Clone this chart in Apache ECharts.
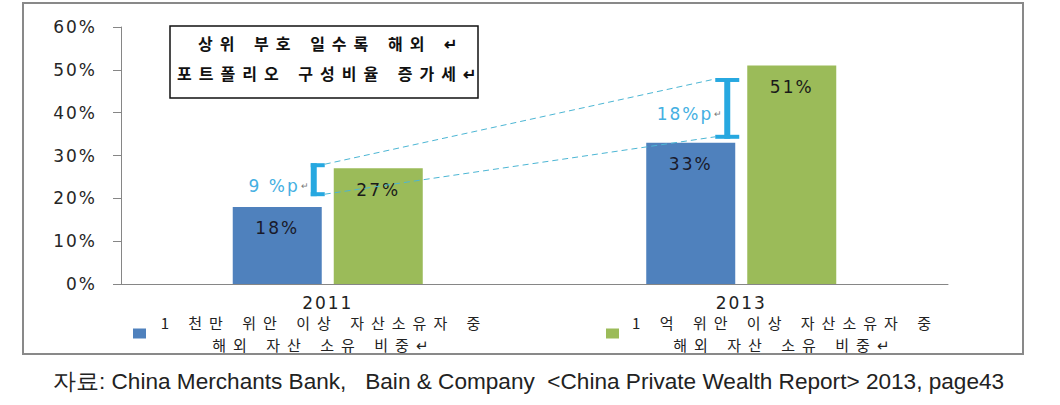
<!DOCTYPE html>
<html><head><meta charset="utf-8">
<script src="https://cdn.jsdelivr.net/npm/echarts@6/dist/echarts.min.js"></script>
<style>
html,body{margin:0;padding:0;background:#fff;}
#c{width:1060px;height:405px;}
#c svg text{white-space:pre;}
#c svg text[style*="Noto Sans CJK KR"]{letter-spacing:7px;word-spacing:2px;}
#c svg text[style*="DejaVu Sans"]{letter-spacing:2px;}
</style></head><body><div id="c"></div>
<script>
// ---- data ----
const categories = ['2011', '2013'];
const seriesNames = [
  '1 천만 위안 이상 자산소유자 중\n해외 자산 소유 비중↵',
  '1 억 위안 이상 자산소유자 중\n해외 자산 소유 비중↵'
];
const blueValues = [18, 33];
const greenValues = [27, 51];
const yMin = 0, yMax = 60, yStep = 10;
const gapLow = [20.5, 33.9];
const gapHigh = [28.2, 48.1];
const gapLabels = ['9 %p', '18%p'];
const boxLines = ['상위 부호 일수록 해외 ↵', '포트폴리오 구성비율 증가세↵'];
const sourceText = '자료: China Merchants Bank,   Bain & Company  <China Private Wealth Report> 2013, page43';

// ---- styles ----
const NUM_FONT = 'DejaVu Sans';
const KR_FONT = 'Noto Sans CJK KR';
const bracketKinds = ['left', 'both'];
const gapColor = '#27a8e0';
const gapTextColor = '#45b0e2';
const dashColor = '#4cb6d4';

const chart = echarts.init(document.getElementById('c'), null, {renderer: 'svg'});

const gapData = categories.map((c, i) => [i, gapLow[i], gapHigh[i]]);

function legendFmt(name) {
  return name.split('\n').map(s => '{a|' + s + '}').join('\n');
}

const option = {
  animation: false,
  backgroundColor: '#fff',
  title: {
    text: sourceText,
    left: 53, top: 370, padding: 0,
    textStyle: {fontFamily: 'Liberation Sans', fontSize: 22.6, fontWeight: 'normal', color: '#222'}
  },
  grid: {left: 121, right: 112, top: 27, bottom: 121, containLabel: false},
  legend: [
    {
      data: [seriesNames[0]], left: 133, top: 315, padding: 0,
      itemWidth: 13, itemHeight: 10, icon: 'rect', selectedMode: false,
      formatter: legendFmt,
      textStyle: {rich: {a: {width: 346, align: 'center', lineHeight: 22, fontSize: 15, fontFamily: KR_FONT, color: '#222'}}}
    },
    {
      data: [seriesNames[1]], left: 606, top: 315, padding: 0,
      itemWidth: 13, itemHeight: 10, icon: 'rect', selectedMode: false,
      formatter: legendFmt,
      textStyle: {rich: {a: {width: 322, align: 'center', lineHeight: 22, fontSize: 15, fontFamily: KR_FONT, color: '#222'}}}
    }
  ],
  xAxis: {
    type: 'category', data: categories,
    axisLine: {lineStyle: {color: '#868686', width: 1}},
    axisTick: {length: 6, lineStyle: {color: '#868686'}},
    axisLabel: {margin: 10, fontFamily: NUM_FONT, fontSize: 17, color: '#222'}
  },
  yAxis: {
    type: 'value', min: yMin, max: yMax, interval: yStep,
    axisLine: {show: true, lineStyle: {color: '#868686', width: 1}},
    axisTick: {show: true, length: 8, lineStyle: {color: '#868686'}},
    splitLine: {show: false},
    axisLabel: {margin: 24, formatter: '{value}%', fontFamily: NUM_FONT, fontSize: 17, color: '#262626'}
  },
  series: [
    {
      name: seriesNames[0], type: 'bar', data: blueValues,
      barWidth: 89, barGap: '13.5%',
      itemStyle: {color: '#4f81bd'},
      label: {show: true, position: 'insideTop', distance: 13, formatter: '{c}%',
        fontFamily: NUM_FONT, fontSize: 17, color: '#1a1a2a'}
    },
    {
      name: seriesNames[1], type: 'bar', data: greenValues,
      barWidth: 89, barGap: '13.5%',
      itemStyle: {color: '#9bbb59'},
      label: {show: true, position: 'insideTop', distance: 13, formatter: '{c}%',
        fontFamily: NUM_FONT, fontSize: 17, color: '#1a1a1a'}
    },
    {
      type: 'custom', data: gapData, encode: {x: 0, y: [1, 2]}, z: 5,
      renderItem: function (params, api) {
        const i = params.dataIndex;
        const lo = api.coord([api.value(0), api.value(1)]);
        const hi = api.coord([api.value(0), api.value(2)]);
        const sx = lo[0] - 14;
        const kids = [];
        const left = bracketKinds[i] === 'both' ? sx - 12 : sx - 3;
        const fw = bracketKinds[i] === 'both' ? 24 : 14;
        kids.push({type: 'rect', shape: {x: sx - 3, y: hi[1], width: 6, height: lo[1] - hi[1]}, style: {fill: gapColor}});
        kids.push({type: 'rect', shape: {x: left, y: hi[1], width: fw, height: 4}, style: {fill: gapColor}});
        kids.push({type: 'rect', shape: {x: left, y: lo[1] - 4, width: fw, height: 4}, style: {fill: gapColor}});
        const my = (hi[1] + lo[1]) / 2 + 6;
        kids.push({type: 'text', x: sx - 14, y: my, style: {text: gapLabels[i], font: '17px ' + NUM_FONT, fill: gapTextColor, textAlign: 'right', textVerticalAlign: 'middle'}});
        kids.push({type: 'text', x: sx - 5, y: my, style: {text: '↵', font: '9px Liberation Sans', fill: '#777', textAlign: 'right', textVerticalAlign: 'middle'}});
        if (i < categories.length - 1) {
          const nlo = api.coord([i + 1, gapLow[i + 1]]);
          const nhi = api.coord([i + 1, gapHigh[i + 1]]);
          const nsx = nlo[0] - 14;
          const endX = bracketKinds[i + 1] === 'both' ? nsx - 12 : nsx - 3;
          const startX = left + fw;
          kids.push({type: 'line', shape: {x1: startX, y1: hi[1] + 1, x2: endX, y2: nhi[1] + 1}, style: {stroke: dashColor, lineWidth: 1, lineDash: [6, 4]}});
          kids.push({type: 'line', shape: {x1: startX, y1: lo[1] - 2, x2: endX, y2: nlo[1] - 2}, style: {stroke: dashColor, lineWidth: 1, lineDash: [6, 4]}});
        }
        return {type: 'group', children: kids};
      }
    }
  ],
  graphic: [
    {type: 'rect', shape: {x: 23, y: 3, width: 1000, height: 351}, style: {fill: 'none', stroke: '#898989', lineWidth: 2}, z: 0, silent: true},
    {type: 'rect', shape: {x: 170, y: 26, width: 308, height: 72}, style: {fill: '#fff', stroke: '#111', lineWidth: 1.5}, z: 10},
    {type: 'text', x: 331, y: 43, z: 11, style: {text: boxLines[0], font: 'bold 16px ' + KR_FONT, fill: '#111', textAlign: 'center', textVerticalAlign: 'middle'}},
    {type: 'text', x: 330, y: 73, z: 11, style: {text: boxLines[1], font: 'bold 16px ' + KR_FONT, fill: '#111', textAlign: 'center', textVerticalAlign: 'middle'}}
  ]
};
chart.setOption(option);
</script>
</body></html>
